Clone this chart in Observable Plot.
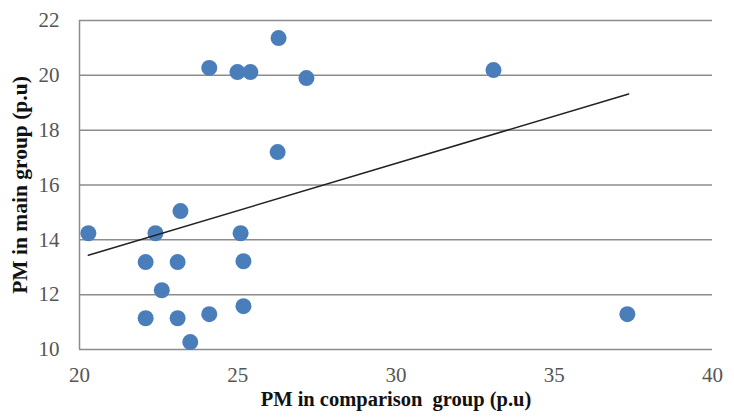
<!DOCTYPE html>
<html>
<head>
<meta charset="utf-8">
<script src="https://cdn.jsdelivr.net/npm/d3@7"></script>
<script src="https://cdn.jsdelivr.net/npm/@observablehq/plot@0.6"></script>
<style>
  html, body { margin: 0; padding: 0; background: #fff; }
  #chart { width: 734px; height: 418px; }
  #chart svg, #chart svg text { font-family: "Liberation Serif", "DejaVu Serif", serif !important; }
</style>
</head>
<body>
<div id="chart"></div>
<script>
// Scatter data (PM in comparison group vs PM in main group)
const comparisonPM = [20.28, 22.4, 23.19, 22.09, 23.1, 22.6, 22.09, 23.1, 24.1, 23.5, 25.09, 25.18, 25.18, 24.1, 24.99, 25.4, 26.29, 26.26, 27.17, 33.08, 37.31];
const mainPM       = [14.24, 14.24, 15.05, 13.19, 13.19, 12.16, 11.14, 11.14, 11.29, 10.27, 14.24, 13.22, 11.58, 20.27, 20.12, 20.12, 21.36, 17.2, 19.9, 20.19, 11.29];
// Trend line end points
const trendX = [20.28, 37.35];
const trendY = [13.44, 19.32];
// Ticks
const xTicks = [20, 25, 30, 35, 40];
const yTicks = [10, 12, 14, 16, 18, 20, 22];
const xTitle = "PM in comparison\u00A0 group (p.u)";
const yTitle = "PM in main group (p.u)";

const points = comparisonPM.map((x, i) => ({x, y: mainPM[i]}));
const trend = trendX.map((x, i) => ({x, y: trendY[i]}));

const chart = Plot.plot({
  width: 734,
  height: 418,
  marginLeft: 79,
  marginRight: 22,
  marginTop: 20,
  marginBottom: 69,
  style: {background: "#fff"},
  x: {domain: [20, 40]},
  y: {domain: [10, 22]},
  marks: [
    Plot.gridY(yTicks, {stroke: "#8c8c8c", strokeOpacity: 1, strokeWidth: 1.5}),
    Plot.ruleX([20], {stroke: "#8c8c8c", strokeWidth: 1.5}),
    Plot.axisX(xTicks, {tickSize: 0, tickPadding: 18, fontSize: 21, fill: "#555", label: null}),
    Plot.axisY(yTicks, {tickSize: 0, tickPadding: 20, fontSize: 21, fill: "#555", label: null}),
    Plot.dot(points, {x: "x", y: "y", r: 8, fill: "#4a7ebb", stroke: "none"}),
    Plot.line(trend, {x: "x", y: "y", stroke: "#222", strokeWidth: 1.5}),
    Plot.text([xTitle], {frameAnchor: "bottom", dy: 56, fontSize: 20.5, fontWeight: "bold", fill: "#111"}),
    Plot.text([yTitle], {frameAnchor: "left", dx: -59, rotate: -90, textAnchor: "middle", fontSize: 21.5, fontWeight: "bold", fill: "#111"})
  ]
});
document.getElementById("chart").appendChild(chart);
</script>
</body>
</html>
